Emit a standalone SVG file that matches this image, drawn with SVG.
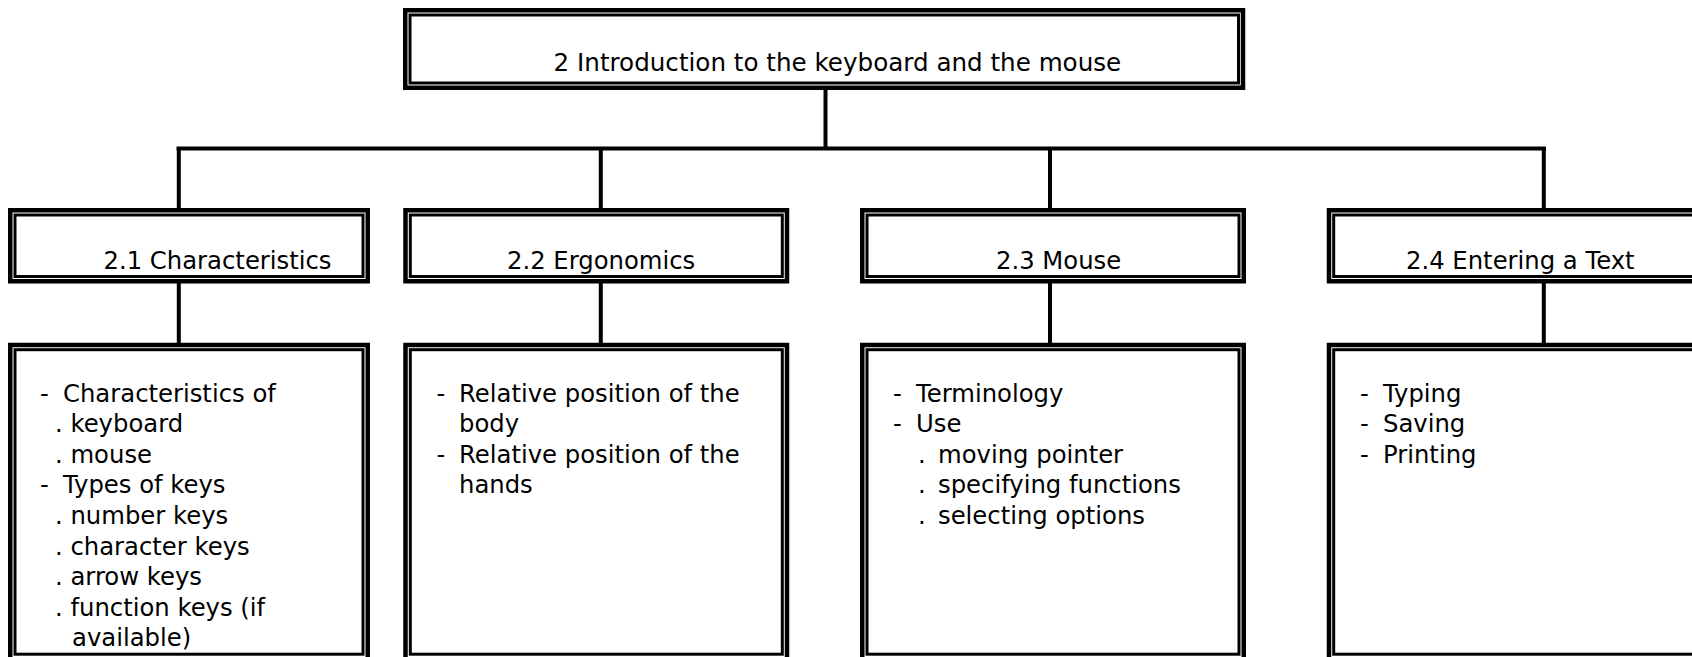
<svg xmlns="http://www.w3.org/2000/svg" width="1692" height="657" viewBox="0 0 1692 657">
<style>
.o{fill:#fff;stroke:#000;stroke-width:4.5}
.i{fill:none;stroke:#000;stroke-width:3}
.c{stroke:#000;stroke-width:4;fill:none}
text{font-family:"DejaVu Sans",sans-serif;font-size:24.3px;fill:#000}
.t{font-size:24.6px}
</style>
<rect width="1692" height="657" fill="#fff"/>
<g id="connectors">
<line class="c" x1="825.5" y1="90" x2="825.5" y2="148.5"/>
<line class="c" x1="176.5" y1="148.5" x2="1546" y2="148.5"/>
<line class="c" x1="178.8" y1="148.5" x2="178.8" y2="208"/>
<line class="c" x1="600.8" y1="148.5" x2="600.8" y2="208"/>
<line class="c" x1="1050" y1="148.5" x2="1050" y2="208"/>
<line class="c" x1="1543.8" y1="148.5" x2="1543.8" y2="208"/>
<line class="c" x1="178.8" y1="283" x2="178.8" y2="343"/>
<line class="c" x1="600.8" y1="283" x2="600.8" y2="343"/>
<line class="c" x1="1050" y1="283" x2="1050" y2="343"/>
<line class="c" x1="1543.8" y1="283" x2="1543.8" y2="343"/>
</g>
<g id="n2">
<rect class="o" x="405.25" y="10.25" width="837.75" height="77.5"/>
<rect class="i" x="410" y="15" width="828.5" height="68"/>
<text class="t" x="553.6" y="71">2 Introduction to the keyboard and the mouse</text>
</g>
<g id="n21">
<rect class="o" x="10.25" y="210.25" width="357.5" height="71"/>
<rect class="i" x="15" y="215" width="348" height="61.5"/>
<text x="103.5" y="268.5">2.1 Characteristics</text>
</g>
<g id="n22">
<rect class="o" x="405.5" y="210.25" width="381.5" height="71"/>
<rect class="i" x="410.3" y="215" width="372" height="61.5"/>
<text x="507" y="268.5">2.2 Ergonomics</text>
</g>
<g id="n23">
<rect class="o" x="862.25" y="210.25" width="381.5" height="71"/>
<rect class="i" x="867" y="215" width="372" height="61.5"/>
<text x="996" y="268.5">2.3 Mouse</text>
</g>
<g id="n24">
<rect class="o" x="1329" y="210.25" width="400" height="71"/>
<rect class="i" x="1333.7" y="215" width="400" height="61.5"/>
<text x="1406" y="268.5">2.4 Entering a Text</text>
</g>
<g id="d21">
<rect class="o" x="10.25" y="345" width="357.5" height="340"/>
<rect class="i" x="15" y="349.7" width="348" height="304.5"/>
<text x="40" y="401.5">-</text><text x="63" y="401.5">Characteristics of</text>
<text x="55" y="432.1">. keyboard</text>
<text x="55" y="462.7">. mouse</text>
<text x="40" y="493.3">-</text><text x="63" y="493.3">Types of keys</text>
<text x="55" y="523.9">. number keys</text>
<text x="55" y="554.5">. character keys</text>
<text x="55" y="585.1">. arrow keys</text>
<text x="55" y="615.7">. function keys (if</text>
<text x="72" y="646.3">available)</text>
</g>
<g id="d22">
<rect class="o" x="405.5" y="345" width="381.5" height="340"/>
<rect class="i" x="410.3" y="349.7" width="372" height="304.5"/>
<text x="436.5" y="401.5">-</text><text x="459" y="401.5">Relative position of the</text>
<text x="459" y="432.1">body</text>
<text x="436.5" y="462.7">-</text><text x="459" y="462.7">Relative position of the</text>
<text x="459" y="493.3">hands</text>
</g>
<g id="d23">
<rect class="o" x="862.25" y="345" width="381.5" height="340"/>
<rect class="i" x="867" y="349.7" width="372" height="304.5"/>
<text x="893" y="401.5">-</text><text x="916" y="401.5">Terminology</text>
<text x="893" y="432.1">-</text><text x="916" y="432.1">Use</text>
<text x="918" y="462.7">.</text><text x="938" y="462.7">moving pointer</text>
<text x="918" y="493.3">.</text><text x="938" y="493.3">specifying functions</text>
<text x="918" y="523.9">.</text><text x="938" y="523.9">selecting options</text>
</g>
<g id="d24">
<rect class="o" x="1329" y="345" width="400" height="340"/>
<rect class="i" x="1333.7" y="349.7" width="400" height="304.5"/>
<text x="1360" y="401.5">-</text><text x="1383" y="401.5">Typing</text>
<text x="1360" y="432.1">-</text><text x="1383" y="432.1">Saving</text>
<text x="1360" y="462.7">-</text><text x="1383" y="462.7">Printing</text>
</g>
</svg>
